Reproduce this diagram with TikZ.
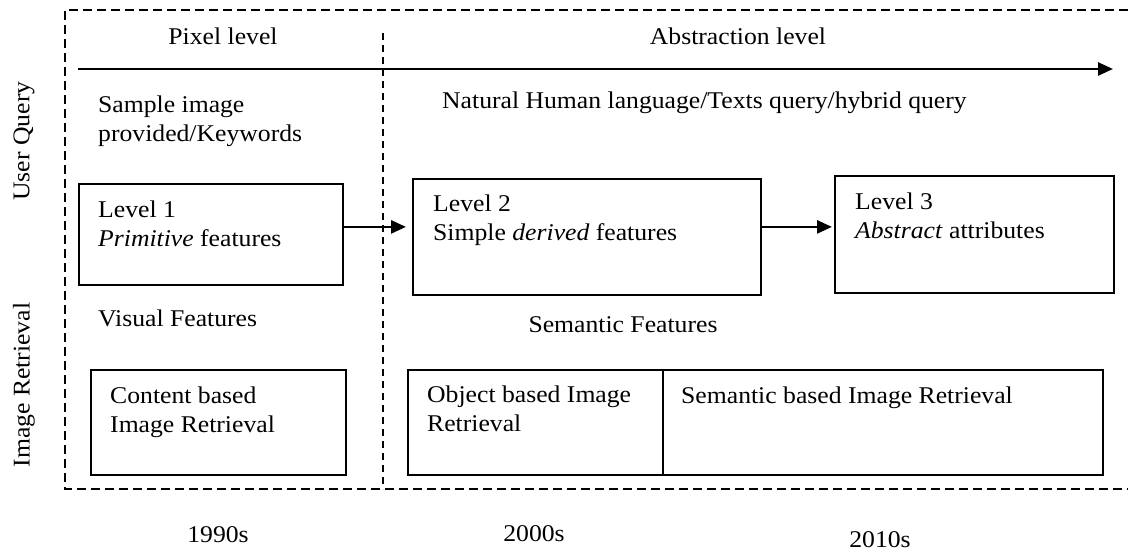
\documentclass[tikz,border=0pt]{standalone}
\usepackage{fontspec}
\setmainfont{Liberation Serif}[FakeStretch=1.07]
\usepackage{tikz}
\usetikzlibrary{arrows.meta, positioning, calc}
\newcommand{\diagfont}{\fontsize{24}{29.5}\selectfont}

\begin{document}
\begin{tikzpicture}[x=1pt, y=-1pt, font=\diagfont,
  box/.style={draw, line width=1.8pt, anchor=north west, inner sep=0pt},
  lbl/.style={inner sep=0pt, anchor=north west, align=left},
  arr/.style={line width=2.6pt, -{Triangle[length=15pt, width=13pt]}},
  frame/.style={line width=1.8pt, dash pattern=on 9pt off 5pt},
  split/.style={line width=1.2pt, dash pattern=on 7pt off 5pt}]
  \useasboundingbox (0,0) rectangle (1128,554);

  % outer frame (runs off the right edge)
  \draw[frame] (1128,10) -- (65,10) -- (65,489) -- (1128,489);

  % split pixel / abstraction
  \coordinate (splitT) at (383,33);
  \coordinate (splitB) at (383,489);
  \draw[split] (splitT) -- (splitB);

  % axis
  \node (pix) at (223,36) {Pixel level};
  \node (abs) at (738,36) {Abstraction level};
  \coordinate (axisL) at (78,69);
  \coordinate (axisR) at (1113,69);
  \draw[arr] (axisL) -- (axisR);

  % side labels
  \node[rotate=90] (uq) at (24,141) {User Query};
  \node[rotate=90] (ir) at (24,385) {Image Retrieval};

  % query row
  \node[lbl] (sample) at (98,95.5) {Sample image\\provided/Keywords};
  \node[lbl] (natq) at (442,91.5) {Natural Human language/Texts query/hybrid query};

  % levels
  \node[box, minimum width=264pt, minimum height=101pt] (lvl1) at (78,183) {};
  \node[lbl] (lvl1txt) at (98,200.5) {Level 1\\\textit{Primitive} features};
  \node[box, minimum width=348pt, minimum height=116pt] (lvl2) at (412,178) {};
  \node[lbl] (lvl2txt) at (433,194.5) {Level 2\\Simple \textit{derived} features};
  \node[box, minimum width=279pt, minimum height=117pt] (lvl3) at (834,175) {};
  \node[lbl] (lvl3txt) at (855,192.5) {Level 3\\\textit{Abstract} attributes};

  \draw[arr, shorten >=6pt] ([yshift=7.5pt]lvl1.east) -- ([yshift=7.5pt]lvl1.east -| lvl2.west);
  \draw[arr, shorten >=2pt] ([yshift=10pt]lvl2.east) -- ([yshift=10pt]lvl2.east -| lvl3.west);

  % feature row
  \node[lbl] (visf) at (98,309.5) {Visual Features};
  \node (semf) at (623,325) {Semantic Features};

  % retrieval row
  \node[box, minimum width=255pt, minimum height=105pt] (cbir) at (90,369) {};
  \node[lbl] (cbirtxt) at (110,386.5) {Content based\\Image Retrieval};
  \node[box, minimum width=255pt, minimum height=105pt] (obir) at (407,369) {};
  \node[lbl] (obirtxt) at (427,385.5) {Object based Image\\Retrieval};
  \node[box, minimum width=440pt, minimum height=105pt] (sbir) at (662,369) {};
  \node[lbl] (sbirtxt) at (681,386.5) {Semantic based Image Retrieval};

  % decades
  \node[anchor=base] (d90) at (218,542) {1990s};
  \node[anchor=base] (d00) at (534,541) {2000s};
  \node[anchor=base] (d10) at (880,547) {2010s};
\end{tikzpicture}
\end{document}
